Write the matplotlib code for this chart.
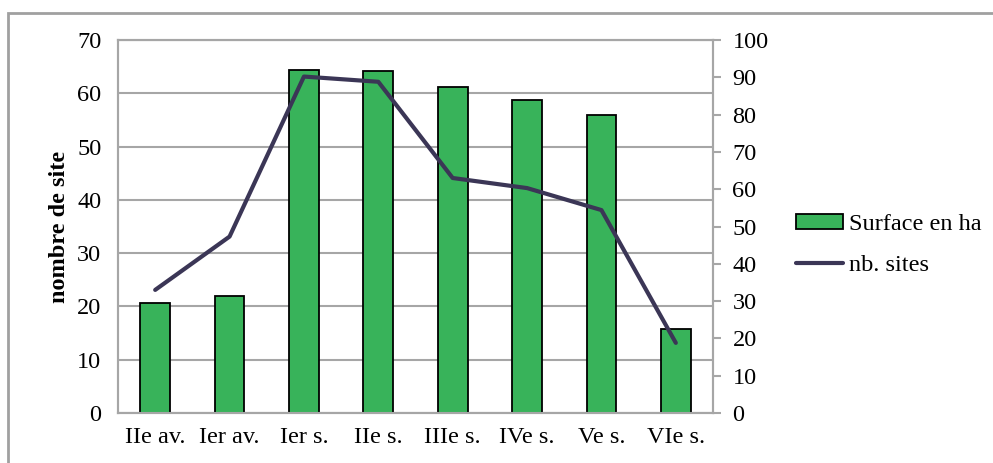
import matplotlib
matplotlib.use("Agg")
import matplotlib.pyplot as plt
from matplotlib.patches import Rectangle
import numpy as np

categories = ["IIe av.", "Ier av.", "Ier s.", "IIe s.", "IIIe s.", "IVe s.", "Ve s.", "VIe s."]
surface_ha = [20.7, 22.0, 64.4, 64.2, 61.1, 58.7, 56.0, 15.8]
nb_sites = [33.0, 47.3, 90.2, 88.8, 63.0, 60.3, 54.4, 18.8]

plt.rcParams['font.family'] = ['Liberation Serif', 'DejaVu Serif']
FS = 17.5

fig = plt.figure(figsize=(9.93, 4.63), dpi=100)
fig.patches.append(Rectangle((8/993, -0.1), 1.2, 1.1 - 13/463, transform=fig.transFigure,
                             fill=False, edgecolor='#a0a0a0', linewidth=2.0))

ax = fig.add_axes([118/993, 1 - 413/463, (713 - 118)/993, (413 - 40)/463])
x = np.arange(len(categories))
grid_c = '#a6a6a6'

ax.bar(x, surface_ha, width=0.4, color='#38b35a', edgecolor='black', linewidth=1.3,
       zorder=3, label='Surface en ha')
ax.set_xlim(-0.5, len(categories) - 0.5)
ax.set_ylim(0, 70)
ax.set_yticks(range(0, 71, 10))
ax.yaxis.grid(True, color=grid_c, linewidth=1.5, zorder=0)
ax.set_axisbelow(True)
ax.set_xticks(x)
ax.set_xticklabels(categories)
ax.tick_params(axis='both', length=0, labelsize=FS, colors='black')
ax.tick_params(axis='y', pad=12)
ax.tick_params(axis='x', pad=10)
for s in ax.spines.values():
    s.set_color(grid_c)
    s.set_linewidth(1.5)
ax.set_ylabel('nombre de site', fontsize=FS, fontweight='bold', labelpad=5)

ax2 = ax.twinx()
ax2.plot(x, nb_sites, color='#3b3656', linewidth=3.0, solid_capstyle='round',
         zorder=4, label='nb. sites')
ax2.set_ylim(0, 100)
ax2.set_yticks(range(0, 101, 10))
ax2.tick_params(axis='y', length=6, width=1.5, color=grid_c, labelsize=FS, pad=8)
for s in ax2.spines.values():
    s.set_color(grid_c)
    s.set_linewidth(1.5)

h1, l1 = ax.get_legend_handles_labels()
h2, l2 = ax2.get_legend_handles_labels()
fig.legend(h1 + h2, l1 + l2, loc='center left', bbox_to_anchor=(774/993, 1 - 245/463),
           frameon=False, fontsize=FS, handlelength=1.95, handleheight=0.55,
           handletextpad=0.25, labelspacing=0.8)

fig.savefig('out.png', dpi=100)
